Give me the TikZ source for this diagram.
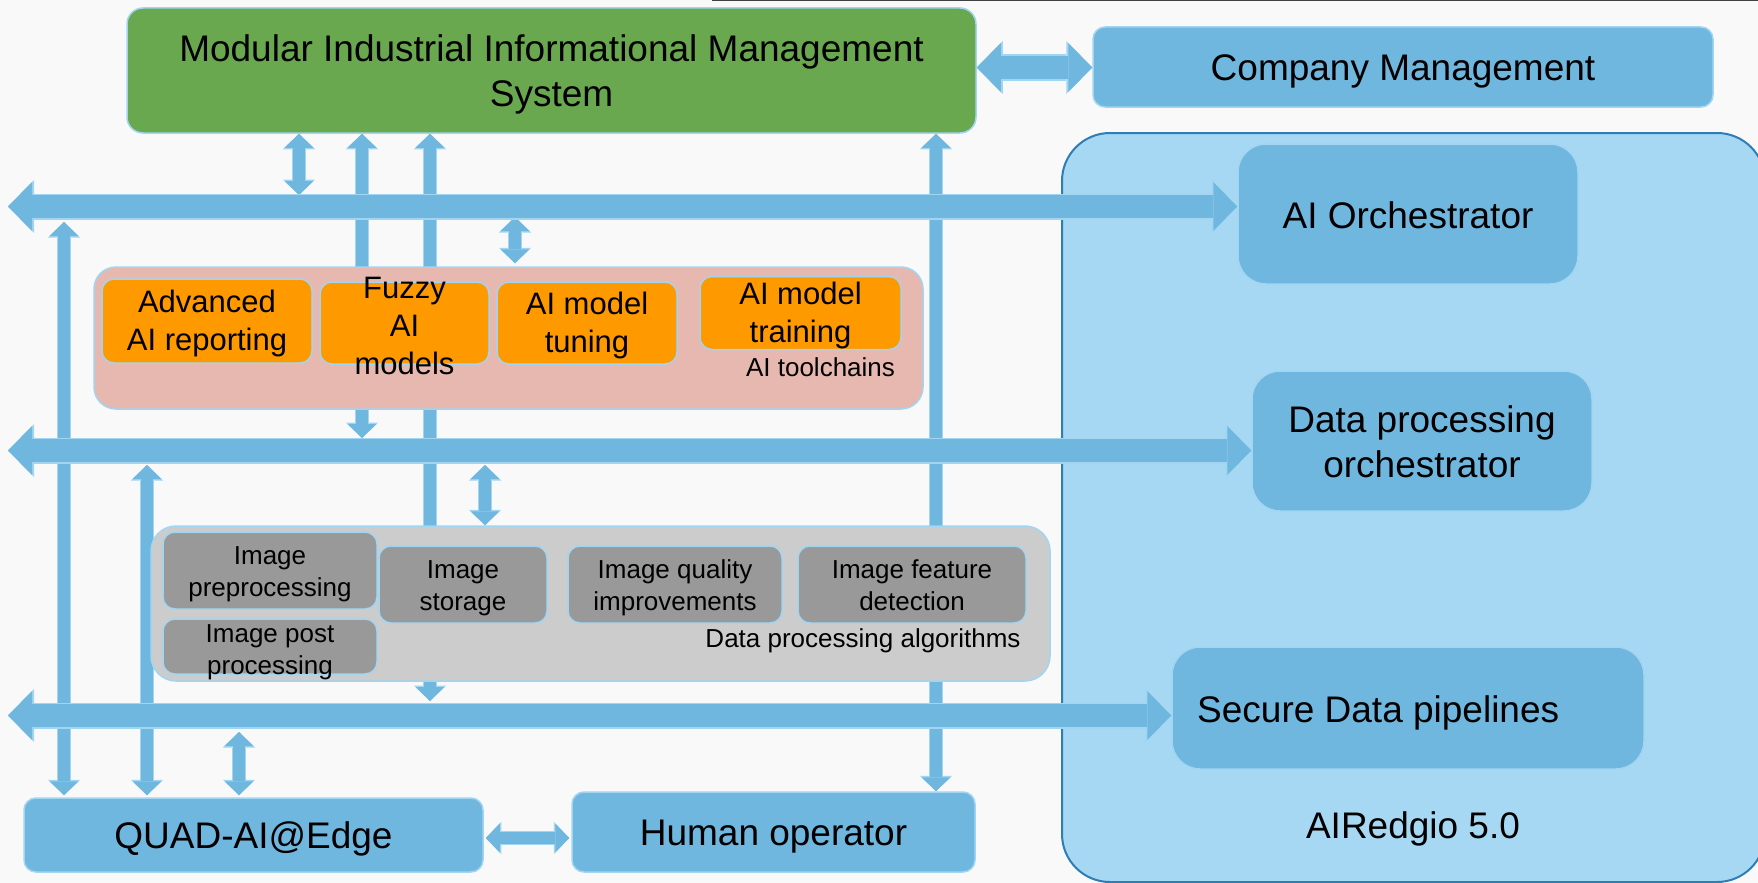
\documentclass[tikz,border=0pt]{standalone}
\usepackage{fontspec}
\setmainfont{Liberation Sans}
\usetikzlibrary{arrows.meta}

\pgfdeclarelayer{bottom}
\pgfdeclarelayer{back}
\pgfsetlayers{bottom,back,main}

\definecolor{pagebg}{HTML}{F9F9F9}
\definecolor{boxblue}{HTML}{70B7DF}
\definecolor{rimblue}{HTML}{A2D5F2}
\definecolor{zoneblue}{HTML}{A6D8F3}
\definecolor{zoneline}{HTML}{2E7DB5}
\definecolor{mgreen}{HTML}{6AA84F}
\definecolor{aiorange}{HTML}{FF9900}
\definecolor{toolpink}{HTML}{E6B8AF}
\definecolor{algogray}{HTML}{CCCCCC}
\definecolor{stepgray}{HTML}{999999}
\definecolor{topline}{HTML}{404040}

% fixed line boxes, so every line sits at the same height in its box
\newcommand\MainStrut{\rule[-6pt]{0pt}{40pt}}
\newcommand\OrangeStrut{\rule[-7pt]{0pt}{35pt}}
\newcommand\GrayStrut{\rule[-5pt]{0pt}{30pt}}
\newcommand\MainSize{\fontsize{37}{45}\selectfont\MainStrut}
\newcommand\OrangeSize{\fontsize{31}{38}\selectfont\OrangeStrut}
\newcommand\GraySize{\fontsize{26}{32}\selectfont\GrayStrut}
\newcommand\LabelSize{\fontsize{26}{32}\selectfont}
\newcommand\TitleSize{\fontsize{37}{45}\selectfont}

\tikzset{
  bigtip/.tip={Triangle[width=49pt,length=24pt,line width=0pt]},
  bigrim/.tip={Triangle[width=53pt,length=26pt,line width=0pt]},
  smalltip/.tip={Triangle[width=29pt,length=14pt,line width=0pt]},
  smallrim/.tip={Triangle[width=32.5pt,length=15.5pt,line width=0pt]},
  bus/.style={draw=boxblue, line width=23pt, arrows={bigtip-bigtip},
    preaction={draw=rimblue, line width=26pt, arrows={bigrim-bigrim}}},
  link/.style={draw=boxblue, line width=11.5pt, arrows={smalltip-smalltip},
    preaction={draw=rimblue, line width=14.5pt, arrows={smallrim-smallrim}}},
  blockbox/.style={draw=rimblue, line width=1.5pt, fill=boxblue,
    rounded corners=12pt, inner sep=0pt, align=center, font=\MainSize},
  sidebox/.style={blockbox, rounded corners=28pt, minimum width=340pt, minimum height=140pt},
  aibox/.style={draw=rimblue, line width=1.5pt, fill=aiorange,
    rounded corners=12pt, inner sep=0pt, align=center, font=\OrangeSize},
  algobox/.style={draw=rimblue, line width=1.5pt, fill=stepgray,
    rounded corners=12pt, inner sep=0pt, align=center, font=\GraySize},
  grouplabel/.style={inner sep=0pt, anchor=base, font=\LabelSize},
}

\begin{document}
\begin{tikzpicture}[x=1pt,y=-1pt]
\useasboundingbox (0,0) rectangle (1758,883);

\begin{pgfonlayer}{bottom}
  \fill[pagebg] (0,0) rectangle (1758,883);
  % AIRedgio 5.0 zone, running past the right edge
  \node[draw=zoneline, line width=2pt, fill=zoneblue, rounded corners=48pt,
        minimum width=703pt, minimum height=749pt, inner sep=0pt] (zone) at (1413.5,507.5) {};
\end{pgfonlayer}

% thin rule along the top edge
\draw[topline, line width=1.5pt] (712,0.75) -- (1758,0.75);

% management level
\node[blockbox, fill=mgreen, rounded corners=16pt, minimum width=849pt, minimum height=125pt]
  (mims) at (551.5,70.5) {\MainStrut Modular Industrial Informational Management\\\MainStrut System};
\node[blockbox, minimum width=620pt, minimum height=80pt] (comp) at (1403,67) {Company Management};

% AIRedgio 5.0 components
\node[sidebox] (orch) at (1408,214) {AI Orchestrator};
\node[sidebox] (dpo) at (1422,441) {\MainStrut Data processing\\\MainStrut orchestrator};
\node[sidebox, minimum width=472pt, minimum height=122pt] (sdp) at (1408,708) {};
\node[inner sep=0pt, anchor=base west, font=\TitleSize] (sdpT) at (1197,722) {Secure Data pipelines};
\node[inner sep=0pt, anchor=base, font=\TitleSize] (zoneT) at (1413,838) {AIRedgio 5.0};

% edge level
\node[blockbox, minimum width=459pt, minimum height=74pt] (quad) at (253.5,835) {QUAD-AI@Edge};
\node[blockbox, minimum width=403pt, minimum height=80pt] (human) at (773.5,832) {Human operator};

% AI toolchains group
\node[draw=rimblue, line width=1.5pt, fill=toolpink, rounded corners=22pt,
      minimum width=829pt, minimum height=142pt, inner sep=0pt] (tool) at (508.5,338) {};
\node[aibox, minimum width=210pt, minimum height=84pt] (adv) at (207,321)
  {\OrangeStrut Advanced\\\OrangeStrut AI reporting};
\node[aibox, minimum width=169pt, minimum height=82pt] (fuzzy) at (404.5,323) {};
\node[inner sep=0pt, align=center, font=\OrangeSize] (fuzzyT) at (404.5,325.5)
  {\OrangeStrut Fuzzy\\\OrangeStrut AI\\\OrangeStrut models};
\node[aibox, minimum width=180pt, minimum height=82pt] (tune) at (587,323)
  {\OrangeStrut AI model\\\OrangeStrut tuning};
\node[aibox, minimum width=201pt, minimum height=72pt] (train) at (800.5,313)
  {\OrangeStrut AI model\\\OrangeStrut training};
\node[grouplabel] (toolT) at (820.5,376) {AI toolchains};

% data processing algorithms group
\node[draw=rimblue, line width=1.5pt, fill=algogray, rounded corners=25pt,
      minimum width=899pt, minimum height=155pt, inner sep=0pt] (dpa) at (600.5,603.5) {};
\node[algobox, minimum width=214pt, minimum height=77pt] (pre) at (270,570.5)
  {\GrayStrut Image\\\GrayStrut preprocessing};
\node[algobox, minimum width=214pt, minimum height=55pt] (post) at (270,646.5) {};
\node[inner sep=0pt, align=center, font=\GraySize] (postT) at (270,649)
  {\GrayStrut Image post\\\GrayStrut processing};
\node[algobox, minimum width=168pt, minimum height=77pt] (store) at (463,584.5)
  {\GrayStrut Image\\\GrayStrut storage};
\node[algobox, minimum width=214pt, minimum height=77pt] (qual) at (675,584.5)
  {\GrayStrut Image quality\\\GrayStrut improvements};
\node[algobox, minimum width=228pt, minimum height=77pt] (feat) at (912,584.5)
  {\GrayStrut Image feature\\\GrayStrut detection};
\node[grouplabel] (dpaT) at (863,647) {Data processing algorithms};

% bus lines and connector ends
\coordinate (b1) at (8,206.5);
\coordinate (b2) at (8,450.5);
\coordinate (b3) at (8,715.5);
\coordinate (mc) at (0,67.5);
\coordinate (a1) at (299,195);
\coordinate (a2) at (362,438);
\coordinate (a3) at (430,701);
\coordinate (a4) at (936,0);
\coordinate (a5) at (515,217);
\coordinate (a6) at (64,222);
\coordinate (a7) at (147,465);
\coordinate (a8) at (239,732);
\coordinate (a9) at (485,465);
\coordinate (a10) at (0,838);

\begin{pgfonlayer}{back}
  \draw[link] (mims.south -| a1) -- (a1);
  \draw[link] (mims.south -| a2) -- (a2);
  \draw[link] (mims.south -| a3) -- (a3);
  \draw[link] (mims.south -| a4) -- (human.north -| a4);
  \draw[link, shorten >=3pt] (a5) -- (tool.north -| a5);
  \draw[link, shorten >=2pt] (a6) -- (quad.north -| a6);
  \draw[link, shorten >=2pt] (a7) -- (quad.north -| a7);
  \draw[link, shorten >=2pt] (a8) -- (quad.north -| a8);
  \draw[link] (a9) -- (dpa.north -| a9);
  \draw[link, shorten <=2pt, shorten >=2pt] (quad.east |- a10) -- (human.west |- a10);
\end{pgfonlayer}

\draw[bus] (mims.east |- mc) -- (comp.west |- mc);
\draw[bus] (b1) -- (orch.west |- b1);
\draw[bus] (b2) -- (dpo.west |- b2);
\draw[bus] (b3) -- (sdp.west |- b3);

\end{tikzpicture}
\end{document}
